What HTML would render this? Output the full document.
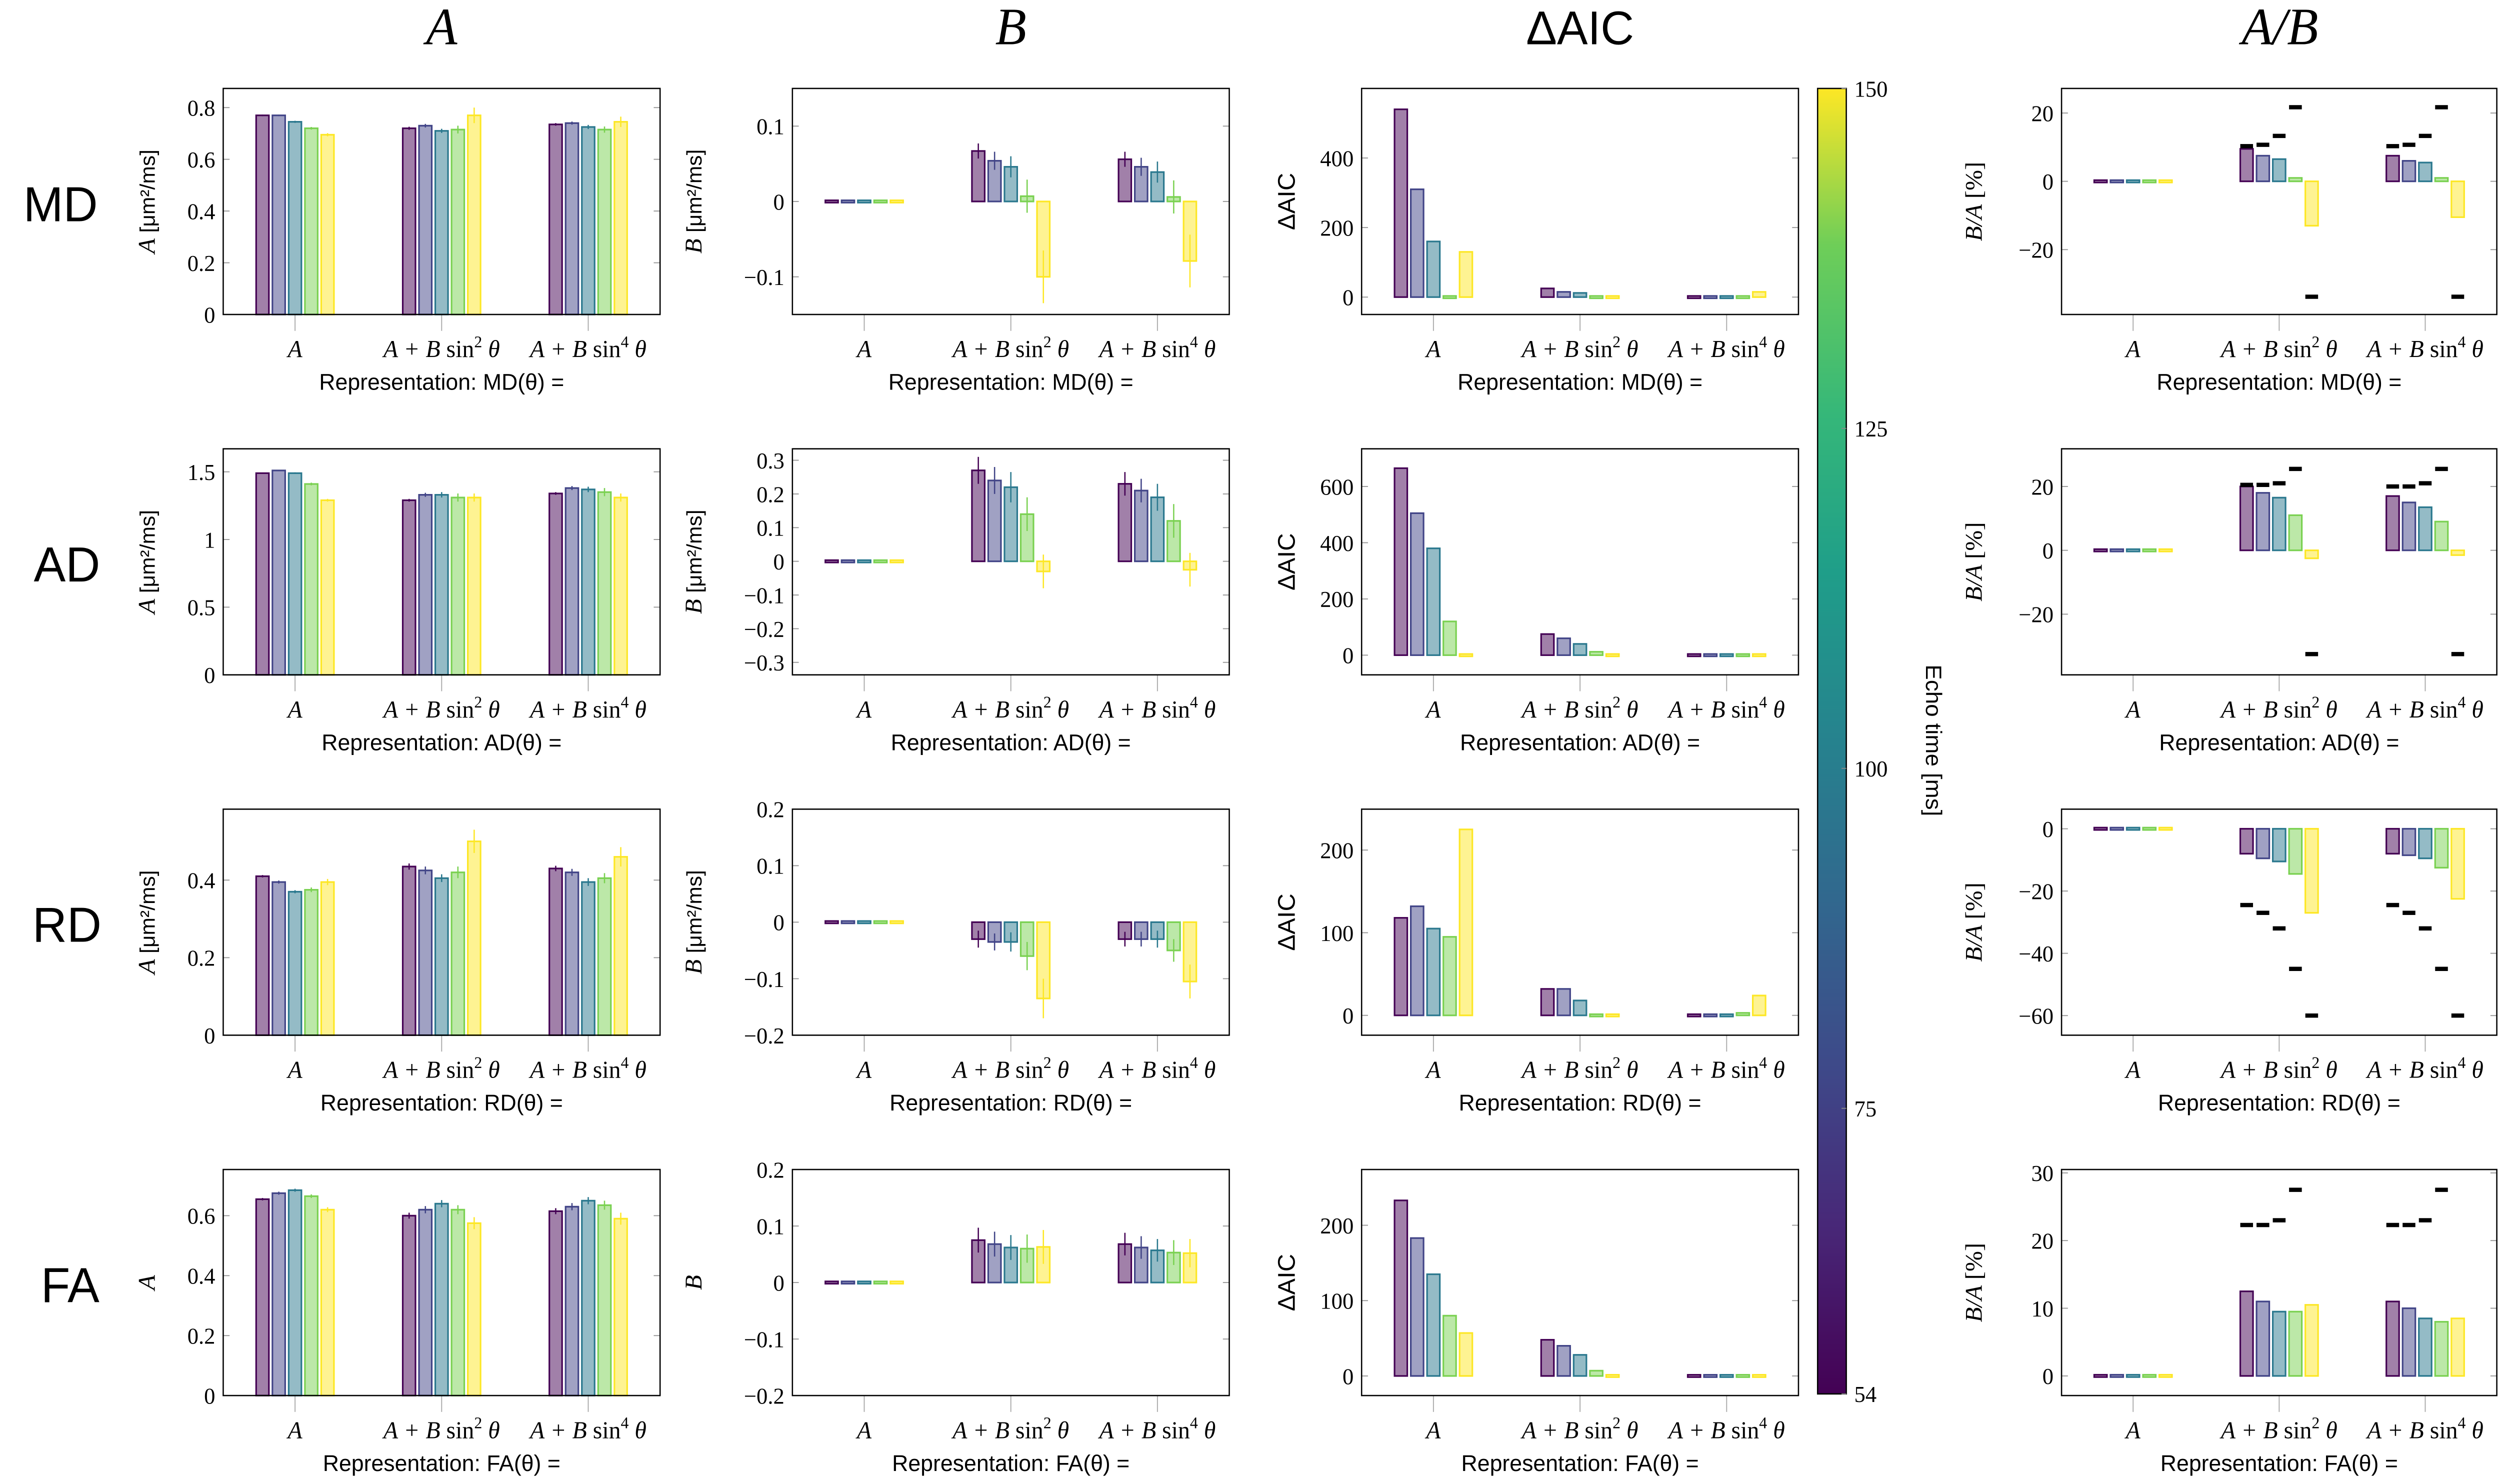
<!DOCTYPE html>
<html><head><meta charset="utf-8"><style>
html,body{margin:0;padding:0;background:#fff;overflow:hidden;width:100vw;height:100vh;}
svg#fig{display:block;position:fixed;left:0;top:0;width:100vw;height:100vh;}
.tk{font-family:"Liberation Serif","DejaVu Serif",serif;font-size:14px;fill:#000;}
.xl{font-family:"Liberation Sans","DejaVu Sans",sans-serif;font-size:14px;fill:#000;}
.it{font-family:"Liberation Serif","DejaVu Serif",serif;font-style:italic;}
</style></head><body>
<svg id="fig" viewBox="0 0 1568 906" preserveAspectRatio="none" xmlns="http://www.w3.org/2000/svg">
<rect x="0" y="0" width="1568" height="906" fill="#fff"/>
<g id="titles">
<text x="277" y="27" text-anchor="middle" class="it" font-size="32">A</text>
<text x="634" y="27" text-anchor="middle" class="it" font-size="32">B</text>
<text x="991" y="27" text-anchor="middle" font-family="Liberation Sans, sans-serif" font-size="29">ΔAIC</text>
<text x="1430" y="27" text-anchor="middle" class="it" font-size="32">A/B</text>
</g>
<g font-family="Liberation Sans, sans-serif" font-size="30" text-anchor="middle">
<text x="38" y="135">MD</text>
<text x="42" y="355">AD</text>
<text x="42" y="575">RD</text>
<text x="44" y="795">FA</text>
</g>
<defs><linearGradient id="vir" x1="0" y1="1" x2="0" y2="0">
<stop offset="0" stop-color="#440154"/><stop offset="0.13" stop-color="#482878"/><stop offset="0.25" stop-color="#3e4989"/><stop offset="0.38" stop-color="#31688e"/><stop offset="0.5" stop-color="#26828e"/><stop offset="0.63" stop-color="#1f9e89"/><stop offset="0.75" stop-color="#35b779"/><stop offset="0.88" stop-color="#6ece58"/><stop offset="1" stop-color="#fde725"/>
</linearGradient></defs>
<g id="cbar"></g>
<g id="panels"></g>
</svg>
<script>
const categories = ["A", "sin2", "sin4"];
const echoTimes = [54, 75, 100, 125, 150];
const cbTicks = [54, 75, 100, 125, 150];
const barColors = ["#440154", "#414487", "#2a788e", "#7ad151", "#fde725"];

// MD row
const mdA = [[0.77,0.77,0.745,0.72,0.695],[0.72,0.73,0.71,0.715,0.77],[0.735,0.74,0.725,0.715,0.745]];
const mdAErr = [[0.003,0.003,0.004,0.005,0.006],[0.006,0.007,0.008,0.015,0.03],[0.005,0.006,0.008,0.012,0.02]];
const mdB = [[0,0,0,0,0],[0.067,0.054,0.046,0.007,-0.1],[0.056,0.046,0.039,0.006,-0.079]];
const mdBErr = [[0,0,0,0,0],[0.01,0.012,0.014,0.022,0.035],[0.01,0.012,0.014,0.022,0.035]];
const mdAIC = [[540,310,160,5,130],[25,15,12,5,3],[3,3,3,5,15]];
const mdRatio = [[0,0,0,0,0],[9.5,7.5,6.5,1,-13],[7.5,6,5.5,1,-10.5]];
const mdMark = [[],[10.3,10.7,13.3,21.7,-33.8],[10.3,10.7,13.3,21.7,-33.8]];
// AD row
const adA = [[1.49,1.51,1.49,1.41,1.29],[1.29,1.33,1.33,1.31,1.31],[1.34,1.38,1.37,1.35,1.31]];
const adAErr = [[0.005,0.005,0.006,0.01,0.01],[0.01,0.015,0.02,0.03,0.03],[0.01,0.015,0.02,0.03,0.03]];
const adB = [[0,0,0,0,0],[0.27,0.24,0.22,0.14,-0.03],[0.23,0.21,0.19,0.12,-0.025]];
const adBErr = [[0,0,0,0,0],[0.04,0.04,0.045,0.05,0.05],[0.035,0.035,0.04,0.05,0.05]];
const adAIC = [[665,505,380,120,3],[75,60,40,12,3],[2,2,2,2,2]];
const adRatio = [[0,0,0,0,0],[20,18,16.5,11,-2.5],[17,15,13.5,9,-1.5]];
const adMark = [[],[20.5,20.5,21,25.5,-32.5],[20,20,21,25.5,-32.5]];
// RD row
const rdA = [[0.41,0.395,0.37,0.375,0.395],[0.435,0.425,0.405,0.42,0.5],[0.43,0.42,0.395,0.405,0.46]];
const rdAErr = [[0.003,0.004,0.004,0.006,0.008],[0.008,0.01,0.01,0.015,0.03],[0.007,0.009,0.01,0.013,0.025]];
const rdB = [[0,0,0,0,0],[-0.03,-0.035,-0.035,-0.06,-0.135],[-0.03,-0.03,-0.03,-0.05,-0.105]];
const rdBErr = [[0,0,0,0,0],[0.015,0.015,0.017,0.025,0.035],[0.013,0.013,0.015,0.02,0.03]];
const rdAIC = [[118,132,105,95,225],[32,32,18,2,1],[1,1,1,3,24]];
const rdRatio = [[0,0,0,0,0],[-8,-9.5,-10.5,-14.5,-27],[-8,-8.5,-9.5,-12.5,-22.5]];
const rdMark = [[],[-24.5,-27,-32,-45,-60],[-24.5,-27,-32,-45,-60]];
// FA row
const faA = [[0.655,0.675,0.685,0.665,0.62],[0.6,0.62,0.64,0.62,0.575],[0.615,0.63,0.65,0.635,0.59]];
const faAErr = [[0.004,0.005,0.005,0.006,0.008],[0.01,0.012,0.012,0.015,0.02],[0.01,0.012,0.012,0.015,0.02]];
const faB = [[0,0,0,0,0],[0.075,0.068,0.062,0.06,0.063],[0.068,0.062,0.057,0.053,0.052]];
const faBErr = [[0,0,0,0,0],[0.022,0.022,0.022,0.025,0.03],[0.02,0.02,0.02,0.022,0.025]];
const faAIC = [[233,183,135,80,57],[48,40,28,7,1],[1,1,1,1,1]];
const faRatio = [[0,0,0,0,0],[12.5,11,9.5,9.5,10.5],[11,10,8.5,8,8.5]];
const faMark = [[],[22.3,22.3,23,27.5],[22.3,22.3,23,27.5]];

const rows = ["MD","AD","RD","FA"];
const NS = "http://www.w3.org/2000/svg";
const colX = [[140,414],[497,771],[854,1128],[1293,1566]];
const rowY = [54,274,494,714];
const AH = 138;

const panelCfg = [
 [{v:mdA,e:mdAErr,r:[0,0.874],t:[0,0.2,0.4,0.6,0.8],yl:"A"},{v:mdB,e:mdBErr,r:[-0.15,0.15],t:[-0.1,0,0.1],yl:"B"},{v:mdAIC,r:[-50,600],t:[0,200,400],yl:"aic"},{v:mdRatio,m:mdMark,r:[-39,27.2],t:[-20,0,20],yl:"ratio"}],
 [{v:adA,e:adAErr,r:[0,1.67],t:[0,0.5,1,1.5],yl:"A"},{v:adB,e:adBErr,r:[-0.337,0.334],t:[-0.3,-0.2,-0.1,0,0.1,0.2,0.3],yl:"B"},{v:adAIC,r:[-70,734],t:[0,200,400,600],yl:"aic"},{v:adRatio,m:adMark,r:[-39,31.8],t:[-20,0,20],yl:"ratio"}],
 [{v:rdA,e:rdAErr,r:[0,0.583],t:[0,0.2,0.4],yl:"A"},{v:rdB,e:rdBErr,r:[-0.2,0.2],t:[-0.2,-0.1,0,0.1,0.2],yl:"B"},{v:rdAIC,r:[-24,249.5],t:[0,100,200],yl:"aic"},{v:rdRatio,m:rdMark,r:[-66.3,6.3],t:[-60,-40,-20,0],yl:"ratio"}],
 [{v:faA,e:faAErr,r:[0,0.754],t:[0,0.2,0.4,0.6],yl:"A",plain:true},{v:faB,e:faBErr,r:[-0.2,0.2],t:[-0.2,-0.1,0,0.1,0.2],yl:"B",plain:true},{v:faAIC,r:[-26,274],t:[0,100,200],yl:"aic"},{v:faRatio,m:faMark,r:[-2.9,30.5],t:[0,10,20,30],yl:"ratio"}]
];

function mk(tag, attrs, parent){
  const el = document.createElementNS(NS, tag);
  for (const k in attrs) el.setAttribute(k, attrs[k]);
  parent.appendChild(el);
  return el;
}
function fmt(v){ let s = String(Math.round(v*1000)/1000); return v<0 ? "\u2212"+s.slice(1) : s; }

const root = document.getElementById("panels");
panelCfg.forEach((row, ri) => {
  row.forEach((cfg, ci) => {
    const x0 = colX[ci][0], x1 = colX[ci][1], y0 = rowY[ri], y1 = y0 + AH;
    const g = mk("g", {}, root);
    
    
    const xs = v => x0 + (v + 0.49) / 2.98 * (x1 - x0);
    const ys = v => y1 - (v - cfg.r[0]) / (cfg.r[1] - cfg.r[0]) * AH;
    const off = 10.2, bw = 8;
    cfg.t.forEach(t => {
      const y = ys(t);
      const tl = mk("line", {x1:x0, x2:x0+4, y1:y, y2:y, stroke:"#999", "stroke-width":0.6}, g);
      
      
      const tr = mk("line", {x1:x1-4, x2:x1, y1:y, y2:y, stroke:"#999", "stroke-width":0.6}, g);
      
      
      const lab = mk("text", {x:x0-5, y:y+5, "text-anchor":"end", class:"tk"}, g);
      lab.textContent = fmt(t);
      
      
    });
    categories.forEach((c, k) => {
      const x = xs(k);
      const tk = mk("line", {x1:x, x2:x, y1:y1, y2:y1+10, stroke:"#aaa", "stroke-width":0.6}, g);
      
      
      const lab = mk("text", {x:x, y:y1+26, "text-anchor":"middle", class:"it", "font-size":15}, g);
      
      
      if (c === "A") lab.textContent = "A";
      else lab.innerHTML = 'A + B <tspan font-style="normal">sin</tspan><tspan dy="-6" font-size="10" font-style="normal">' + (c==="sin2"?"2":"4") + '</tspan><tspan dy="6"> θ</tspan>';
    });
    const xl = mk("text", {x:(x0+x1)/2, y:y1+46, "text-anchor":"middle", class:"xl"}, g);
    xl.textContent = "Representation:  " + rows[ri] + "(θ) =";
    
    
    const ylx = ci===0 ? x0-43 : ci===1 ? x0-57 : ci===2 ? x0-42 : x0-50;
    const yl = mk("text", {transform:"translate("+ylx+","+((y0+y1)/2)+") rotate(-90)", "text-anchor":"middle", "font-size":15}, g);
    
    
    if (cfg.yl === "A" || cfg.yl === "B") {
      yl.setAttribute("class", "it");
      yl.innerHTML = cfg.plain ? cfg.yl : cfg.yl + ' <tspan font-style="normal" font-family="Liberation Sans, sans-serif" font-size="13">[μm²/ms]</tspan>';
    } else if (cfg.yl === "aic") {
      yl.setAttribute("font-family", "Liberation Sans, sans-serif");
      yl.textContent = "ΔAIC";
    } else {
      yl.setAttribute("class", "it");
      yl.innerHTML = 'B/A <tspan font-style="normal">[%]</tspan>';
    }
    cfg.v.forEach((grp, k) => {
      grp.forEach((val, j) => {
        const cx = xs(k) + (j - 2) * off;
        const yv = ys(val), yz = ys(0);
        let top = Math.min(yv, yz), h = Math.abs(yv - yz);
        if (h < 1.4) { top = yz - 0.7; h = 1.4; }
        const b = mk("rect", {x:cx-bw/2, y:top, width:bw, height:h, fill:barColors[j], "fill-opacity":0.5, stroke:barColors[j], "stroke-width":1}, g);
        
        
        if (cfg.e && cfg.e[k][j] > 0) {
          const el = mk("line", {x1:cx, x2:cx, y1:ys(val+cfg.e[k][j]), y2:ys(val-cfg.e[k][j]), stroke:barColors[j], "stroke-width":0.8}, g);
          
          
        }
      });
    });
    if (cfg.m) {
      cfg.m.forEach((grp, k) => {
        grp.forEach((val, j) => {
          const cx = xs(k) + (j - 2) * off;
          const m = mk("rect", {x:cx-bw/2, y:ys(val)-1.3, width:bw, height:2.6, fill:"#000"}, g);
          
          
        });
      });
    }
    const fr = mk("rect", {x:x0, y:y0, width:x1-x0, height:AH, fill:"none", stroke:"#000", "stroke-width":0.8}, g);
    
    
  });
});

const cb = document.getElementById("cbar");
const cbx0 = 1140, cbx1 = 1158, cby0 = 54, cby1 = 851;
const cbs = v => cby1 - (v - 54) / (150 - 54) * (cby1 - cby0);
const cr = mk("rect", {x:cbx0, y:cby0, width:cbx1-cbx0, height:cby1-cby0, fill:"url(#vir)", stroke:"#000", "stroke-width":0.8}, cb);


cbTicks.forEach(t => {
  const y = cbs(t);
  const l = mk("line", {x1:cbx1-3, x2:cbx1, y1:y, y2:y, stroke:"#888", "stroke-width":0.6}, cb);
  
  
  const tx = mk("text", {x:cbx1+5, y:y+5, class:"tk"}, cb);
  tx.textContent = String(t);
  
  
});
const ct = mk("text", {transform:"translate(1208,452) rotate(90)", "text-anchor":"middle", class:"xl"}, cb);
ct.textContent = "Echo time [ms]";


</script>
</body></html>
